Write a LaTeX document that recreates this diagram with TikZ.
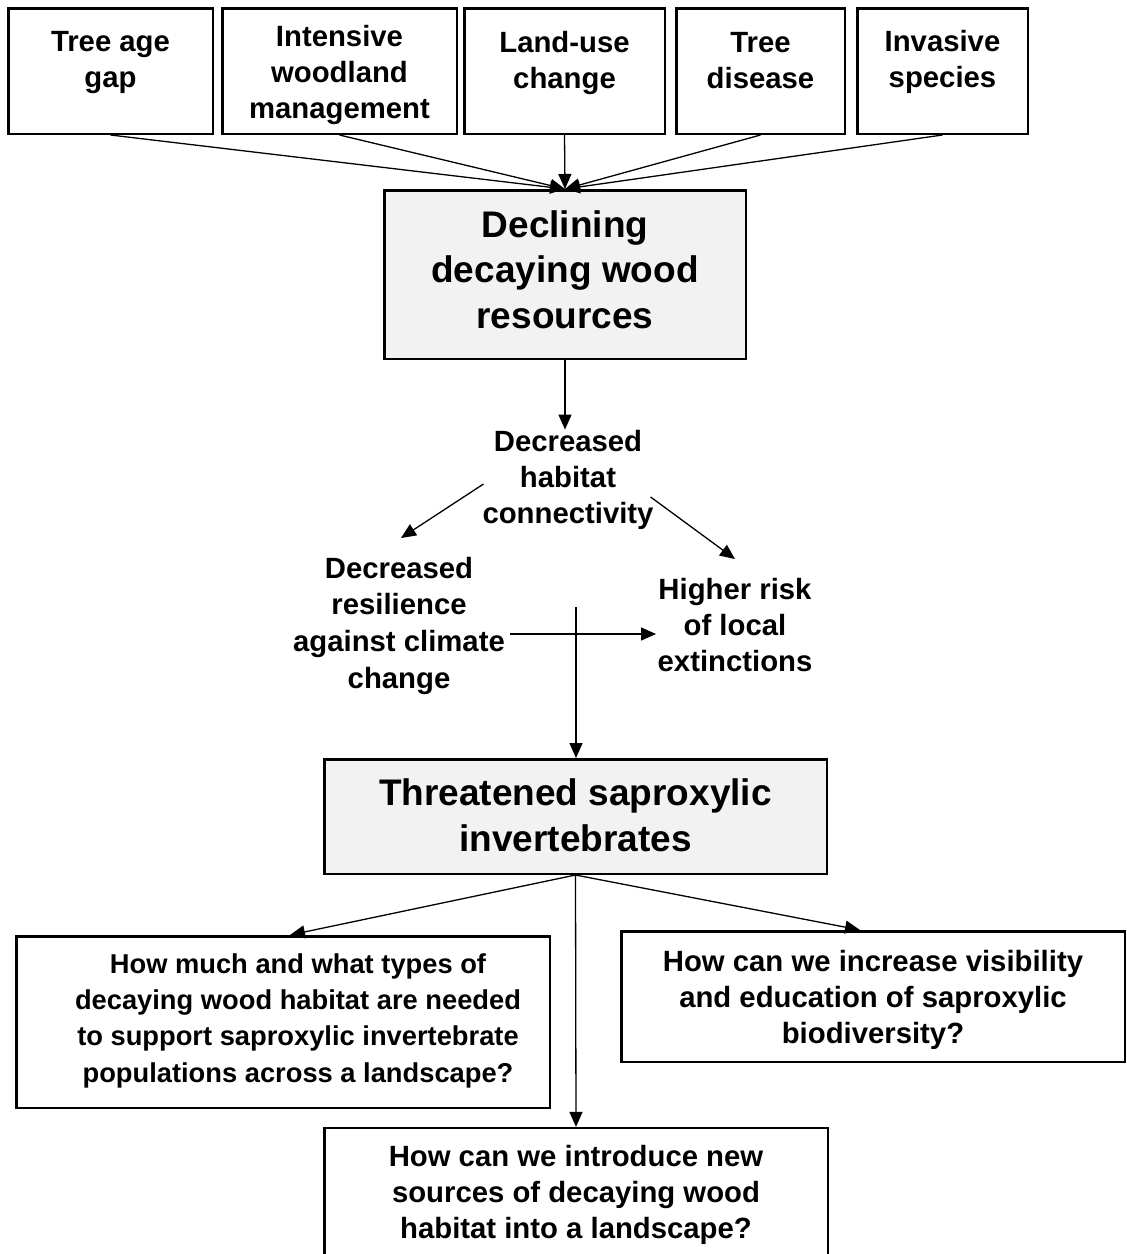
\documentclass[tikz,border=0pt]{standalone}
\usepackage{fontspec}
\setmainfont{Liberation Sans}
\usetikzlibrary{arrows.meta}
\definecolor{boxgray}{HTML}{F2F2F2}
\newcommand{\qtext}[4]{\parbox[c][#2][t]{#1}{\centering\vspace*{#3}\strut #4\par}}
\newcommand{\qtextshift}[5]{\parbox[c][#2][t]{#1}{\centering\leftskip=#5 plus 1fil\vspace*{#3}\strut #4\par}}
\begin{document}
\begin{tikzpicture}[x=1pt,y=-1pt,
  small/.style={font=\fontsize{29.3}{36}\selectfont\bfseries},
  smaller/.style={font=\fontsize{27.3}{36.3}\selectfont\bfseries},
  big/.style={font=\fontsize{37}{45.5}\selectfont\bfseries},
  frame/.style={draw=black, line width=2.5pt, inner sep=0pt},
  hub/.style={frame, fill=boxgray},
  plain/.style={inner sep=0pt, anchor=base},
  conn/.style={line width=1.3pt, -{Triangle[length=15pt,width=13pt]}}]
\useasboundingbox (0,0) rectangle (1127,1254);
\clip (0,0) rectangle (1127,1254);

% top row of causes
\node[frame,small] (b1) at (110.5,71) {\qtext{204.5pt}{125.5pt}{18.5pt}{Tree age\\gap}};
\node[frame,small] (b2) at (339.5,71) {\qtext{234.5pt}{125.5pt}{13.5pt}{Intensive\\woodland\\management}};
\node[frame,small] (b3) at (564.5,71) {\qtext{200.5pt}{125.5pt}{19.5pt}{Land-use\\change}};
\node[frame,small] (b4) at (760.5,71) {\qtext{168.5pt}{125.5pt}{19.5pt}{Tree\\disease}};
\node[frame,small] (b5) at (942.5,71) {\qtext{170.5pt}{125.5pt}{18.5pt}{Invasive\\species}};

% central boxes
\node[hub,big] (dec) at (565,274.5) {\qtext{361.5pt}{168.5pt}{14.9pt}{Declining\\decaying wood\\resources}};
\node[hub,big] (thr) at (575.5,816.5) {\qtext{502.5pt}{114.5pt}{14.4pt}{Threatened saproxylic\\invertebrates}};

% intermediate effects
\node[plain,small] (hab) at (568,451) {\parbox[t]{220pt}{\centering Decreased\\habitat\\connectivity}};
\node[plain,small] (res) at (399,578) {\parbox[t]{240pt}{\centering\baselineskip=36.7pt Decreased\\resilience\\against climate\\change}};
\node[plain,small] (risk) at (735,599) {\parbox[t]{200pt}{\centering Higher risk\\of local\\extinctions}};

% research questions
\node[frame,smaller] (ql) at (283,1022) {\qtextshift{533.5pt}{171.5pt}{11.5pt}{How much and what types of\\decaying wood habitat are needed\\to support saproxylic invertebrate\\populations across a landscape?}{30pt}};
\node[frame,small] (qr) at (873,996.5) {\qtext{503.5pt}{130.5pt}{15pt}{How can we increase visibility\\and education of saproxylic\\biodiversity?}};
\node[frame,small] (qb) at (576,1214) {\qtext{503.5pt}{171.75pt}{13.5pt}{How can we introduce new\\sources of decaying wood\\habitat into a landscape?}};

% free connector ends
\coordinate (hL) at (483.5,484);
\coordinate (rT) at (401,538);
\coordinate (hR) at (650.6,497);
\coordinate (kT) at (735,559);
\coordinate (rE) at (510,634);
\coordinate (kW) at (656,634);
\coordinate (vS) at (576,607);

% connectors
\foreach \b in {b1,b2,b3,b4,b5} \draw[conn] (\b.south) -- (dec.north);
\draw[conn] (dec.south) -- (dec.south |- hab.north);
\draw[conn] (hL) -- (rT);
\draw[conn] (hR) -- (kT);
\draw[conn] (rE) -- (kW);
\draw[conn] (vS) -- (vS |- thr.north);
\draw[conn] (thr.south) -- ([xshift=7pt]ql.north);
\draw[conn] (thr.south) -- ([xshift=-13pt]qr.north);
\draw[conn] (thr.south) -- (qb.north);
\end{tikzpicture}
\end{document}
